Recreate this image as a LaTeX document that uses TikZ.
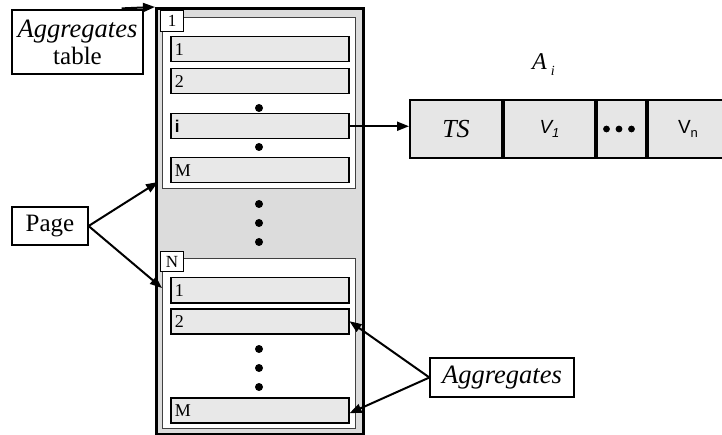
\documentclass[tikz,border=0pt]{standalone}
\usepackage{fontspec}
\setmainfont{Liberation Serif}
\newfontfamily\arial{Liberation Sans}
\usetikzlibrary{arrows.meta,positioning}

\definecolor{tablegray}{HTML}{DCDCDC}
\definecolor{rowgray}{HTML}{E8E8E8}
\definecolor{cellgray}{HTML}{E6E6E6}

\tikzset{
  labelbox/.style={draw, line width=1pt, fill=white, inner sep=0pt,
    font=\fontsize{17}{17}\selectfont},
  textbox/.style={draw, line width=1.2pt, fill=white, inner sep=0pt,
    font=\fontsize{25}{27}\selectfont},
  rowbox/.style={draw, line width=1.5pt, fill=rowgray, anchor=north west,
    minimum width=178pt, minimum height=25pt, text width=170pt,
    inner xsep=4pt, inner ysep=0pt, align=left,
    font=\fontsize{18}{18}\selectfont},
  pagebox/.style={draw=black!75, line width=1pt, fill=white, anchor=north west,
    minimum width=193pt, inner sep=0pt},
  cell/.style={draw, line width=2pt, fill=cellgray, anchor=north west,
    minimum height=58pt, inner sep=0pt},
  bigdot/.style={fill=black},
  arr/.style={line width=2pt, -{Triangle[length=12pt,width=9pt]}},
}

\begin{document}
\begin{tikzpicture}[x=1pt,y=-1pt]
\useasboundingbox (0,0) rectangle (722,435);

% the aggregates table
\node[draw, line width=3pt, fill=tablegray, anchor=north west,
      minimum width=207pt, minimum height=426pt, inner sep=0pt] (tbl) at (155,7) {};

% first page
\node[pagebox, minimum height=171pt] (pg1) at (162,17) {};
\node[labelbox, anchor=north west, minimum width=23pt, minimum height=21pt] (lb1) at (160,10) {1};
\node[rowbox] (p1r1) at (170,36) {1};
\node[rowbox] (p1r2) at (170,68) {2};
\node[rowbox, font=\fontsize{17}{17}\selectfont\arial\bfseries] (p1ri) at (170,113) {i};
\node[rowbox] (p1rM) at (170,157) {M};
\fill[bigdot] (259,108) circle (4);
\fill[bigdot] (259,147) circle (4);

% pages in between
\fill[bigdot] (259,204) circle (4);
\fill[bigdot] (259,223) circle (4);
\fill[bigdot] (259,242) circle (4);

% last page
\node[pagebox, minimum height=170pt] (pgN) at (162,258) {};
\node[labelbox, anchor=north west, minimum width=23pt, minimum height=20pt] (lbN) at (160,251) {N};
\node[rowbox] (pNr1) at (170,277) {1};
\node[rowbox] (pNr2) at (170,308) {2};
\node[rowbox] (pNrM) at (170,397) {M};
\fill[bigdot] (259,349) circle (4);
\fill[bigdot] (259,368) circle (4);
\fill[bigdot] (259,387) circle (4);

% aggregate record
\node[cell, minimum width=92pt, font=\fontsize{26}{26}\selectfont\itshape] (ts) at (409,99) {TS};
\node[cell, minimum width=91pt, font=\fontsize{19}{19}\selectfont\arial] (v1) at (ts.north east)
  {\itshape V\raisebox{-4pt}{\fontsize{13}{13}\selectfont 1}};
\node[cell, minimum width=49pt] (vd) at (v1.north east) {};
\node[cell, minimum width=80pt, font=\fontsize{19}{19}\selectfont\arial] (vn) at (vd.north east)
  {V\raisebox{-4pt}{\fontsize{13}{13}\selectfont n}};
\fill[bigdot] ([xshift=-15pt]vd.center) circle (3.4);
\fill[bigdot] ([xshift=-2.5pt]vd.center) circle (3.4);
\fill[bigdot] ([xshift=10pt]vd.center) circle (3.4);
\node[anchor=base west, inner sep=0pt, font=\fontsize{24}{24}\selectfont\itshape] (ai) at (532,70)
  {A\hspace{4pt}\raisebox{-6pt}{\fontsize{14}{14}\selectfont i}};

% annotation boxes
\node[textbox, minimum width=131pt, minimum height=64pt, align=center] (agt) at (77.5,42)
  {{\fontsize{26.5}{27}\selectfont\itshape Aggregates}\\table};
\node[textbox, minimum width=76pt, minimum height=38pt] (pg) at (50,226) {Page};
\node[textbox, minimum width=144pt, minimum height=39pt, font=\fontsize{26.5}{27}\selectfont\itshape] (agg) at (502,377.5) {Aggregates};

% connectors
\coordinate (agtop) at ([xshift=-22pt,yshift=1pt]agt.north east);
\coordinate (pg1tip) at (158,182);
\coordinate (pgNtip) at (162,288);
\draw[arr] (agtop) -- (tbl.north west);
\draw[arr] (pg.east) -- (pg1tip);
\draw[arr] (pg.east) -- (pgNtip);
\draw[arr] (p1ri.east) -- (p1ri.east -| ts.west);
\draw[arr] (agg.west) -- (pNr2.east);
\draw[arr] (agg.west) -- ([yshift=-3pt]pNrM.east);
\end{tikzpicture}
\end{document}
